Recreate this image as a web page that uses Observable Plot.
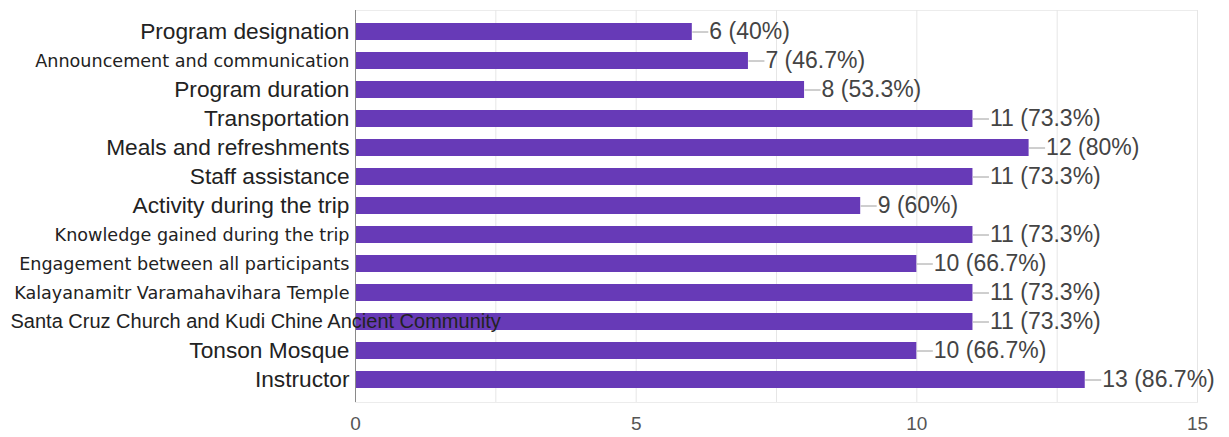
<!DOCTYPE html>
<html><head><meta charset="utf-8">
<script src="https://cdn.jsdelivr.net/npm/d3@7"></script>
<script src="https://cdn.jsdelivr.net/npm/@observablehq/plot@0.6"></script>
<style>html,body{margin:0;padding:0;background:#fff}</style>
</head><body><div id="chart"></div>
<script>
const categories = [
  "Program designation",
  "Announcement and communication",
  "Program duration",
  "Transportation",
  "Meals and refreshments",
  "Staff assistance",
  "Activity during the trip",
  "Knowledge gained during the trip",
  "Engagement between all participants",
  "Kalayanamitr Varamahavihara Temple",
  "Santa Cruz Church and Kudi Chine Ancient Community",
  "Tonson Mosque",
  "Instructor"
];
const counts = [6, 7, 8, 11, 12, 11, 9, 11, 10, 11, 11, 10, 13];
const percents = ["40%", "46.7%", "53.3%", "73.3%", "80%", "73.3%", "60%", "73.3%", "66.7%", "73.3%", "73.3%", "66.7%", "86.7%"];
const xTicks = [0, 5, 10, 15];
const gridTicks = [0, 2.5, 5, 7.5, 10, 12.5, 15];
const altFontLabels = [
  "Announcement and communication",
  "Knowledge gained during the trip",
  "Engagement between all participants",
  "Kalayanamitr Varamahavihara Temple"
];
const overflowLabels = ["Santa Cruz Church and Kudi Chine Ancient Community"];

const data = categories.map((c, i) => ({category: c, count: counts[i], label: `${counts[i]} (${percents[i]})`}));
const normalLabels = data.filter(d => !altFontLabels.includes(d.category) && !overflowLabels.includes(d.category));
const altLabels = data.filter(d => altFontLabels.includes(d.category));
const overLabels = data.filter(d => overflowLabels.includes(d.category));

const connector = {draw(ctx) { ctx.moveTo(0, 0); ctx.lineTo(16, 0); }};

const chart = Plot.plot({
  width: 1229,
  height: 437,
  marginLeft: 355,
  marginRight: 32,
  marginTop: 10,
  marginBottom: 35,
  style: {fontFamily: "'Liberation Sans', Arial, sans-serif", background: "#fff"},
  x: {domain: [0, 15], ticks: xTicks, label: null},
  y: {domain: categories, padding: 0.4, label: null, axis: null},
  marks: [
    Plot.frame({stroke: "#ececec"}),
    Plot.ruleX(gridTicks, {stroke: "#e6e6e6"}),
    Plot.barX(data, {x: "count", y: "category", fill: "#673ab7"}),
    Plot.ruleX([0], {stroke: "#8a8a8a"}),
    Plot.dot(data, {x: "count", y: "category", symbol: connector, stroke: "#9e9e9e", fill: "none", r: 1, strokeWidth: 1}),
    Plot.text(data, {x: "count", y: "category", text: "label", textAnchor: "start", dx: 17, fill: "#444", fontSize: 23}),
    Plot.text(normalLabels, {x: 0, y: "category", text: "category", textAnchor: "end", dx: -6, fill: "#222", fontSize: 22.7}),
    Plot.text(altLabels, {x: 0, y: "category", text: "category", textAnchor: "end", dx: -6, fill: "#222", fontSize: 17.6, fontFamily: "'DejaVu Sans', sans-serif"}),
    Plot.text(overLabels, {y: "category", text: "category", frameAnchor: "left", textAnchor: "start", dx: -345, fill: "#222", fontSize: 20}),
    Plot.axisX({ticks: xTicks, tickSize: 0, tickPadding: 14, fontSize: 19, fill: "#555", label: null})
  ]
});
document.getElementById("chart").appendChild(chart);
</script>
</body></html>
